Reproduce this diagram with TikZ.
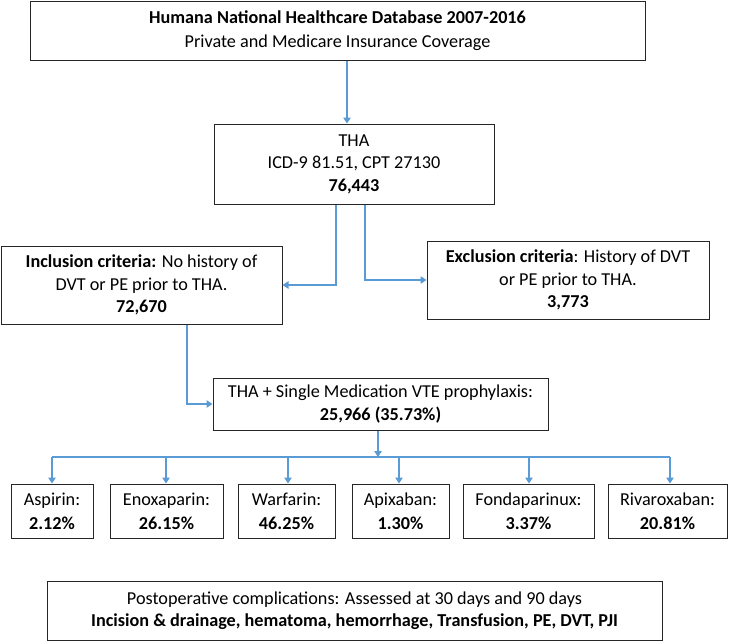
\documentclass[tikz,border=0pt]{standalone}
\usepackage{fontspec}
\setmainfont{Carlito}
\usetikzlibrary{arrows.meta,calc}
\definecolor{conn}{HTML}{5B9BD5}
\definecolor{boxline}{HTML}{262626}
\tikzset{
  box/.style={draw=boxline, line width=1pt, fill=white, align=center, inner sep=0pt,
    font=\fontsize{18.2}{22.5}\selectfont, text=black},
  arr/.style={draw=conn, line width=1.1pt, -{Triangle[length=6pt,width=7.5pt]}},
  ln/.style={draw=conn, line width=1.1pt}
}
\begin{document}
\begin{tikzpicture}[x=1pt,y=-1pt]
\useasboundingbox (0,0) rectangle (729,641);
\node[box, minimum width=615pt, minimum height=59pt] (top) at (337.5,30.5)
  {\textbf{Humana National Healthcare Database 2007-2016}\\[1.5pt]Private and Medicare Insurance Coverage};
\node[box, minimum width=280pt, minimum height=80pt] (tha) at (354,164)
  {THA\\ICD-9 81.51, CPT 27130\\\textbf{76,443}};
\node[box, minimum width=281pt, minimum height=78pt] (incl) at (141.5,285)
  {\textbf{Inclusion criteria:} No history of\\DVT or PE prior to THA.\\\textbf{72,670}};
\node[box, minimum width=282pt, minimum height=78pt] (excl) at (568,280)
  {\textbf{Exclusion criteria}: History of DVT\\or PE prior to THA.\\\textbf{3,773}};
\node[box, minimum width=335pt, minimum height=52pt] (thap) at (380.5,404)
  {THA + Single Medication VTE prophylaxis:\\\textbf{25,966 (35.73\%)}};
\node[box, minimum width=82pt, minimum height=54pt] (asp) at (52,511) {Aspirin:\\[1.5pt]\textbf{2.12\%}};
\node[box, minimum width=113pt, minimum height=54pt] (eno) at (166.5,511) {Enoxaparin:\\[1.5pt]\textbf{26.15\%}};
\node[box, minimum width=97pt, minimum height=54pt] (war) at (286.5,511) {Warfarin:\\[1.5pt]\textbf{46.25\%}};
\node[box, minimum width=97pt, minimum height=54pt] (api) at (400.5,511) {Apixaban:\\[1.5pt]\textbf{1.30\%}};
\node[box, minimum width=131pt, minimum height=54pt] (fon) at (528.5,511) {Fondaparinux:\\[1.5pt]\textbf{3.37\%}};
\node[box, minimum width=119pt, minimum height=54pt] (riv) at (667.5,511) {Rivaroxaban:\\[1.5pt]\textbf{20.81\%}};
\node[box, minimum width=615pt, minimum height=59pt] (post) at (354.5,610.5)
  {Postoperative complications: Assessed at 30 days and 90 days\\\textbf{Incision \& drainage, hematoma, hemorrhage, Transfusion, PE, DVT, PJI}};
% connectors
\draw[arr] (347,0 |- top.south) -- (347,0 |- tha.north);
\draw[arr] (336,0 |- tha.south) |- (incl.east);
\draw[arr] (365,0 |- tha.south) |- (excl.west);
\draw[arr] (187,0 |- incl.south) |- (thap.west);
\coordinate (busL) at (52,457);
\coordinate (busR) at (670,457);
\draw[ln] (busL) -- (busR);
\draw[arr] (378,0 |- thap.south) -- (378,0 |- busL);
\draw[arr] (52,0 |- busL) -- (52,0 |- asp.north);
\draw[arr] (166,0 |- busL) -- (166,0 |- eno.north);
\draw[arr] (288,0 |- busL) -- (288,0 |- war.north);
\draw[arr] (399,0 |- busL) -- (399,0 |- api.north);
\draw[arr] (529,0 |- busL) -- (529,0 |- fon.north);
\draw[arr] (670,0 |- busL) -- (670,0 |- riv.north);
\end{tikzpicture}
\end{document}
